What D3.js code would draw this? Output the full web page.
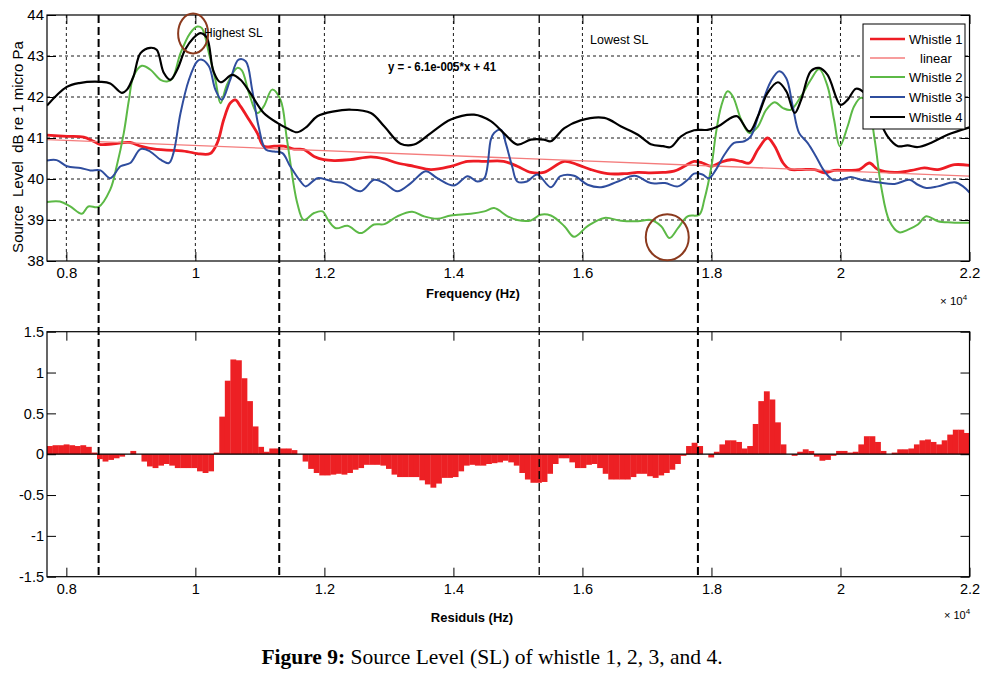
<!DOCTYPE html>
<html><head><meta charset="utf-8">
<script src="https://cdn.jsdelivr.net/npm/d3@7/dist/d3.min.js"></script>
<style>
html,body{margin:0;padding:0;background:#fff;}
text{font-family:"Liberation Sans",Arial,sans-serif;}
</style></head>
<body><svg id="c" width="993" height="675"></svg>
<script>
// ---------- DATA (frequency in units of 10^4 Hz) ----------
const xTicks = [0.8, 1.0, 1.2, 1.4, 1.6, 1.8, 2.0, 2.2];
const xTickLabels = ["0.8","1","1.2","1.4","1.6","1.8","2","2.2"];
const slTicks = [38, 39, 40, 41, 42, 43, 44];
const resTicks = [-1.5, -1, -0.5, 0, 0.5, 1, 1.5];
const resTickLabels = ["-1.5","-1","-0.5","0","0.5","1","1.5"];
const markerLines = [0.85, 1.13, 1.533, 1.779];

const whistle1 = [[0.770,41.07],[0.801,41.04],[0.827,41.02],[0.842,40.92],[0.853,40.84],[0.873,40.86],[0.899,40.89],[0.915,40.80],[0.940,40.72],[0.966,40.70],[0.987,40.67],[1.003,40.62],[1.023,40.62],[1.034,40.88],[1.044,41.45],[1.054,41.85],[1.062,41.93],[1.070,41.77],[1.083,41.45],[1.096,41.12],[1.106,40.80],[1.122,40.80],[1.137,40.80],[1.153,40.73],[1.168,40.72],[1.184,40.55],[1.199,40.47],[1.215,40.45],[1.240,40.47],[1.272,40.54],[1.293,40.49],[1.313,40.39],[1.339,40.31],[1.365,40.23],[1.396,40.31],[1.422,40.43],[1.448,40.43],[1.478,40.43],[1.499,40.31],[1.520,40.16],[1.540,40.16],[1.572,40.43],[1.592,40.35],[1.613,40.23],[1.639,40.13],[1.665,40.13],[1.686,40.16],[1.706,40.15],[1.725,40.16],[1.742,40.19],[1.758,40.31],[1.773,40.43],[1.786,40.39],[1.800,40.31],[1.815,40.41],[1.830,40.47],[1.846,40.43],[1.859,40.39],[1.872,40.72],[1.887,41.00],[1.898,40.80],[1.911,40.39],[1.921,40.24],[1.939,40.23],[1.960,40.23],[1.975,40.15],[1.990,40.21],[2.011,40.21],[2.029,40.23],[2.045,40.39],[2.058,40.23],[2.084,40.16],[2.110,40.21],[2.130,40.27],[2.151,40.23],[2.177,40.35],[2.200,40.33]];
const linearFit = [[0.77,40.96],[2.20,40.07]];
const whistle2 = [[0.770,39.44],[0.790,39.45],[0.806,39.33],[0.824,39.15],[0.834,39.33],[0.850,39.32],[0.868,39.74],[0.878,40.31],[0.889,41.12],[0.897,41.93],[0.904,42.50],[0.917,42.76],[0.930,42.67],[0.946,42.42],[0.956,42.38],[0.964,42.44],[0.977,43.07],[0.992,43.56],[1.003,43.72],[1.010,43.68],[1.021,43.07],[1.031,42.42],[1.039,41.85],[1.049,42.30],[1.065,42.71],[1.072,42.65],[1.083,42.10],[1.096,41.61],[1.106,41.77],[1.119,42.18],[1.132,41.93],[1.142,40.96],[1.158,39.41],[1.168,39.00],[1.184,39.17],[1.197,39.21],[1.207,38.97],[1.218,38.80],[1.236,38.86],[1.256,38.68],[1.277,38.89],[1.293,38.90],[1.313,39.09],[1.336,39.20],[1.354,39.09],[1.375,39.03],[1.396,39.11],[1.427,39.15],[1.448,39.21],[1.463,39.29],[1.484,39.09],[1.499,39.00],[1.520,38.99],[1.535,39.13],[1.551,39.11],[1.572,38.85],[1.587,38.59],[1.608,38.85],[1.634,39.05],[1.660,38.98],[1.686,38.97],[1.706,39.00],[1.722,38.85],[1.735,38.56],[1.748,38.80],[1.763,39.09],[1.781,39.13],[1.789,39.50],[1.800,40.31],[1.807,41.12],[1.815,41.77],[1.825,42.14],[1.833,42.02],[1.846,41.45],[1.859,41.12],[1.872,41.28],[1.885,41.69],[1.898,41.87],[1.911,41.73],[1.923,41.69],[1.939,42.02],[1.954,42.42],[1.967,42.68],[1.980,42.26],[1.990,41.45],[1.999,40.80],[2.011,41.28],[2.021,41.77],[2.032,41.98],[2.042,41.85],[2.053,40.96],[2.063,39.82],[2.076,38.97],[2.091,38.70],[2.104,38.76],[2.120,38.89],[2.133,39.09],[2.151,38.97],[2.172,38.94],[2.200,38.93]];
const whistle3 = [[0.770,40.45],[0.785,40.46],[0.801,40.31],[0.822,40.27],[0.837,40.21],[0.853,40.21],[0.868,40.02],[0.884,40.31],[0.899,40.39],[0.915,40.73],[0.930,40.67],[0.946,40.47],[0.959,40.39],[0.966,40.63],[0.977,41.61],[0.990,42.42],[1.003,42.87],[1.010,42.91],[1.021,42.75],[1.031,42.18],[1.041,41.93],[1.054,42.42],[1.067,42.91],[1.078,42.87],[1.088,42.18],[1.098,41.28],[1.109,40.72],[1.122,40.67],[1.135,40.63],[1.147,40.31],[1.163,39.94],[1.171,39.82],[1.189,40.02],[1.204,39.98],[1.215,39.93],[1.230,39.90],[1.256,39.70],[1.277,39.98],[1.293,39.90],[1.313,39.70],[1.334,39.90],[1.357,40.19],[1.375,40.02],[1.401,39.84],[1.422,40.07],[1.437,39.94],[1.448,40.02],[1.458,40.96],[1.463,41.12],[1.474,41.20],[1.481,40.88],[1.491,40.31],[1.499,39.94],[1.514,39.94],[1.530,40.11],[1.551,39.80],[1.566,40.07],[1.587,40.08],[1.608,39.86],[1.629,39.80],[1.655,39.94],[1.681,40.08],[1.706,39.90],[1.728,39.90],[1.748,39.82],[1.763,39.98],[1.773,40.13],[1.786,40.11],[1.796,40.02],[1.807,40.23],[1.820,40.59],[1.835,40.88],[1.851,40.92],[1.861,41.04],[1.877,41.77],[1.892,42.38],[1.905,42.63],[1.916,42.46],[1.926,41.77],[1.936,41.12],[1.949,40.88],[1.962,40.55],[1.975,40.19],[1.988,39.98],[2.000,39.98],[2.016,40.05],[2.032,39.98],[2.058,39.92],[2.084,39.88],[2.107,39.98],[2.120,39.86],[2.133,39.78],[2.151,39.82],[2.177,39.92],[2.190,39.82],[2.200,39.67]];
const whistle4 = [[0.770,41.79],[0.800,42.24],[0.820,42.34],[0.853,42.37],[0.868,42.33],[0.886,42.10],[0.894,42.18],[0.904,42.50],[0.915,43.07],[0.930,43.20],[0.940,43.15],[0.951,42.59],[0.961,42.42],[0.972,42.67],[0.984,43.15],[0.997,43.44],[1.008,43.56],[1.018,43.44],[1.028,42.63],[1.039,42.36],[1.057,42.54],[1.070,42.42],[1.085,42.10],[1.106,41.61],[1.127,41.37],[1.142,41.24],[1.158,41.14],[1.173,41.28],[1.189,41.53],[1.215,41.65],[1.240,41.69],[1.272,41.61],[1.293,41.28],[1.318,40.86],[1.339,40.84],[1.365,41.12],[1.396,41.45],[1.432,41.57],[1.458,41.41],[1.478,41.12],[1.499,40.84],[1.520,40.96],[1.540,40.96],[1.551,40.92],[1.572,41.24],[1.597,41.43],[1.634,41.49],[1.660,41.28],[1.686,41.08],[1.706,40.85],[1.725,40.80],[1.737,40.78],[1.753,41.04],[1.773,41.19],[1.794,41.20],[1.810,41.28],[1.830,41.49],[1.840,41.53],[1.859,41.16],[1.872,41.53],[1.887,42.10],[1.903,42.36],[1.916,42.14],[1.929,41.61],[1.939,41.93],[1.954,42.63],[1.967,42.71],[1.980,42.54],[2.000,41.81],[2.011,41.93],[2.024,42.20],[2.037,42.10],[2.053,41.69],[2.073,41.04],[2.089,40.80],[2.104,40.82],[2.120,40.78],[2.140,40.88],[2.166,41.08],[2.200,41.26]];

// residual bars (86 Hz bins, from 0.77e4 to 2.2e4)
const residualStart = 0.77, residualEnd = 2.2;
const residuals = [0.10,0.11,0.11,0.12,0.11,0.10,0.11,0.09,0.02,-0.06,-0.09,-0.07,-0.05,-0.03,0.0,0.04,0.0,-0.09,-0.15,-0.17,-0.14,-0.12,-0.14,-0.17,-0.17,-0.17,-0.17,-0.21,-0.23,-0.21,0.02,0.46,0.90,1.16,1.15,0.93,0.65,0.34,0.09,0.03,0.07,0.07,0.07,0.07,0.05,0.0,-0.09,-0.18,-0.23,-0.26,-0.26,-0.25,-0.24,-0.25,-0.23,-0.19,-0.17,-0.13,-0.13,-0.13,-0.14,-0.18,-0.25,-0.28,-0.28,-0.28,-0.28,-0.32,-0.37,-0.41,-0.36,-0.29,-0.29,-0.28,-0.21,-0.14,-0.13,-0.14,-0.14,-0.12,-0.11,-0.10,-0.08,-0.10,-0.14,-0.23,-0.31,-0.35,-0.35,-0.34,-0.24,-0.12,-0.05,-0.05,-0.10,-0.17,-0.17,-0.13,-0.12,-0.17,-0.24,-0.31,-0.31,-0.31,-0.31,-0.28,-0.24,-0.24,-0.27,-0.29,-0.26,-0.23,-0.19,-0.12,-0.02,0.10,0.14,0.10,0.0,-0.04,0.03,0.12,0.17,0.17,0.15,0.07,0.10,0.37,0.65,0.77,0.67,0.39,0.12,0.0,-0.02,0.03,0.06,0.04,-0.03,-0.08,-0.07,-0.02,0.04,0.04,0.02,0.03,0.12,0.22,0.22,0.15,0.04,0.0,0.02,0.06,0.06,0.07,0.12,0.17,0.18,0.15,0.12,0.17,0.24,0.30,0.30,0.26];

const seriesNames = ["Whistle 1","linear","Whistle 2","Whistle 3","Whistle 4"];
const seriesData = [whistle1, linearFit, whistle2, whistle3, whistle4];
const seriesColors = ["#ee1c24","#f47c7c","#5cb946","#2f4d9e","#000000"];
const seriesWidths = [2.8, 1.4, 2, 2, 2.2];

// ---------- LAYOUT ----------
const svg = d3.select("#c");
const L = 47, R = 969.5;
const top1 = 15, bot1 = 261, top2 = 331.7, bot2 = 576.7;
const x = d3.scaleLinear().domain([0.77, 2.2]).range([L, R]);
const y1 = d3.scaleLinear().domain([38, 44]).range([bot1, top1]);
const y2 = d3.scaleLinear().domain([-1.5, 1.5]).range([bot2, top2]);

// ---------- TOP PLOT ----------
const g1 = svg.append("g");
g1.selectAll("line.gx").data(xTicks.filter(d => d < 2.19)).enter().append("line")
  .attr("x1", d => x(d)).attr("x2", d => x(d)).attr("y1", top1).attr("y2", bot1)
  .attr("stroke", "#000").attr("stroke-width", 0.9).attr("stroke-dasharray", "3,3");
g1.selectAll("line.gy").data(slTicks.filter(d => d > 38 && d < 44)).enter().append("line")
  .attr("x1", L).attr("x2", R).attr("y1", d => y1(d)).attr("y2", d => y1(d))
  .attr("stroke", "#000").attr("stroke-width", 0.9).attr("stroke-dasharray", "3,3");

svg.append("clipPath").attr("id", "cp1").append("rect")
  .attr("x", L).attr("y", top1).attr("width", R - L).attr("height", bot1 - top1);
const line = d3.line().x(d => x(d[0])).y(d => y1(d[1])).curve(d3.curveCatmullRom.alpha(0.5));
const lg = g1.append("g").attr("clip-path", "url(#cp1)");
seriesData.forEach((s, i) => {
  lg.append("path").datum(s).attr("d", line).attr("fill", "none")
    .attr("stroke", seriesColors[i]).attr("stroke-width", seriesWidths[i])
    .attr("stroke-linejoin", "round");
});

function styleAxis(sel) {
  sel.select(".domain").remove();
  sel.selectAll(".tick line").attr("stroke", "#000").attr("stroke-width", 1);
  sel.selectAll(".tick text").attr("fill", "#000").style("font-family", '"Liberation Sans",Arial,sans-serif');
}
const ax1b = g1.append("g").attr("transform", `translate(0,${bot1})`)
  .call(d3.axisBottom(x).tickValues(xTicks).tickFormat((d, i) => xTickLabels[i]).tickSize(-9).tickPadding(6.5));
styleAxis(ax1b); ax1b.selectAll("text").style("font-size", "15px");
const ax1t = g1.append("g").attr("transform", `translate(0,${top1})`)
  .call(d3.axisTop(x).tickValues(xTicks).tickFormat("").tickSize(-9));
styleAxis(ax1t);
const ax1l = g1.append("g").attr("transform", `translate(${L},0)`)
  .call(d3.axisLeft(y1).tickValues(slTicks).tickFormat(d3.format("d")).tickSize(-9).tickPadding(3));
styleAxis(ax1l); ax1l.selectAll("text").style("font-size", "15px");
const ax1r = g1.append("g").attr("transform", `translate(${R},0)`)
  .call(d3.axisRight(y1).tickValues(slTicks).tickFormat("").tickSize(-9));
styleAxis(ax1r);
g1.append("rect").attr("x", L).attr("y", top1).attr("width", R - L).attr("height", bot1 - top1)
  .attr("fill", "none").attr("stroke", "#000").attr("stroke-width", 1.2);

// annotations
svg.append("ellipse").attr("cx", x(0.9965)).attr("cy", y1(43.55)).attr("rx", 15).attr("ry", 20)
  .attr("fill", "none").attr("stroke", "#8b3a1e").attr("stroke-width", 2);
svg.append("ellipse").attr("cx", x(1.7315)).attr("cy", y1(38.58)).attr("rx", 21.5).attr("ry", 23)
  .attr("fill", "none").attr("stroke", "#8b3a1e").attr("stroke-width", 2);
svg.append("text").attr("x", 204).attr("y", 37).style("font-size", "12px").text("Highest SL");
svg.append("text").attr("x", 590).attr("y", 44).style("font-size", "12.5px").text("Lowest SL");
svg.append("text").attr("x", 388).attr("y", 71).style("font-size", "12px").style("font-weight", "bold")
  .attr("textLength", 108).attr("lengthAdjust", "spacingAndGlyphs").text("y = - 6.1e-005*x + 41");

svg.append("text").attr("transform", "translate(23,147) rotate(-90)").attr("text-anchor", "middle")
  .style("font-size", "15px").style("white-space", "pre").text("Source  Level  dB re 1 micro Pa");
svg.append("text").attr("x", 473).attr("y", 298).attr("text-anchor", "middle")
  .style("font-size", "13px").style("font-weight", "bold").text("Frequency (Hz)");
const e1 = svg.append("text").attr("x", 940).attr("y", 305).style("font-size", "11.5px");
e1.append("tspan").text("× 10");
e1.append("tspan").attr("dy", -5).style("font-size", "8px").text("4");

// legend
const leg = svg.append("g");
leg.append("rect").attr("x", 863).attr("y", 24).attr("width", 102).attr("height", 105)
  .attr("fill", "#fff").attr("stroke", "#000").attr("stroke-width", 1);
const legY = [39, 58, 77, 97, 117];
seriesNames.forEach((n, i) => {
  leg.append("line").attr("x1", 870).attr("x2", 905).attr("y1", legY[i]).attr("y2", legY[i])
    .attr("stroke", seriesColors[i]).attr("stroke-width", Math.min(seriesWidths[i], 2.4));
  leg.append("text").attr("x", n === "linear" ? 920 : 909).attr("y", legY[i] + 4.5)
    .style("font-size", "13px").text(n);
});

// ---------- BOTTOM PLOT ----------
const g2 = svg.append("g");
const step = (residualEnd - residualStart) / residuals.length;
g2.selectAll("rect.bar").data(residuals).enter().append("rect")
  .attr("x", (d, i) => x(residualStart + i * step))
  .attr("width", (d, i) => x(residualStart + (i + 1) * step) - x(residualStart + i * step) + 0.3)
  .attr("y", d => y2(Math.max(0, d)))
  .attr("height", d => Math.abs(y2(d) - y2(0)))
  .attr("fill", "#ed2024");
g2.append("line").attr("x1", L).attr("x2", R).attr("y1", y2(0)).attr("y2", y2(0))
  .attr("stroke", "#000").attr("stroke-width", 1.3);

const ax2b = g2.append("g").attr("transform", `translate(0,${bot2})`)
  .call(d3.axisBottom(x).tickValues(xTicks).tickFormat((d, i) => xTickLabels[i]).tickSize(-9).tickPadding(6.7));
styleAxis(ax2b); ax2b.selectAll("text").style("font-size", "14.5px");
const ax2t = g2.append("g").attr("transform", `translate(0,${top2})`)
  .call(d3.axisTop(x).tickValues(xTicks).tickFormat("").tickSize(-9));
styleAxis(ax2t);
const ax2l = g2.append("g").attr("transform", `translate(${L},0)`)
  .call(d3.axisLeft(y2).tickValues(resTicks).tickFormat((d, i) => resTickLabels[i]).tickSize(-9).tickPadding(3));
styleAxis(ax2l); ax2l.selectAll("text").style("font-size", "14.5px");
const ax2r = g2.append("g").attr("transform", `translate(${R},0)`)
  .call(d3.axisRight(y2).tickValues(resTicks).tickFormat("").tickSize(-9));
styleAxis(ax2r);
g2.append("rect").attr("x", L).attr("y", top2).attr("width", R - L).attr("height", bot2 - top2)
  .attr("fill", "none").attr("stroke", "#000").attr("stroke-width", 1.2);

svg.append("text").attr("x", 472).attr("y", 622).attr("text-anchor", "middle")
  .style("font-size", "13px").style("font-weight", "bold").text("Residuls (Hz)");
const e2 = svg.append("text").attr("x", 944).attr("y", 619).style("font-size", "11px");
e2.append("tspan").text("× 10");
e2.append("tspan").attr("dy", -5).style("font-size", "8px").text("4");

// vertical dashed marker lines spanning both plots
svg.selectAll("line.mk").data(markerLines).enter().append("line")
  .attr("x1", d => x(d)).attr("x2", d => x(d)).attr("y1", top1).attr("y2", bot2)
  .attr("stroke", "#000").attr("stroke-width", (d, i) => i === 2 ? 1.3 : 2)
  .attr("stroke-dasharray", "8,4");

// caption
const cap = svg.append("text").attr("x", 492).attr("y", 664).attr("text-anchor", "middle")
  .style("font-family", '"Liberation Serif","Times New Roman",serif').style("font-size", "21.5px");
cap.append("tspan").style("font-weight", "bold").style("font-family", '"Liberation Serif",serif').text("Figure 9:");
cap.append("tspan").style("font-family", '"Liberation Serif",serif').text(" Source Level (SL) of whistle 1, 2, 3, and 4.");
</script></body></html>
